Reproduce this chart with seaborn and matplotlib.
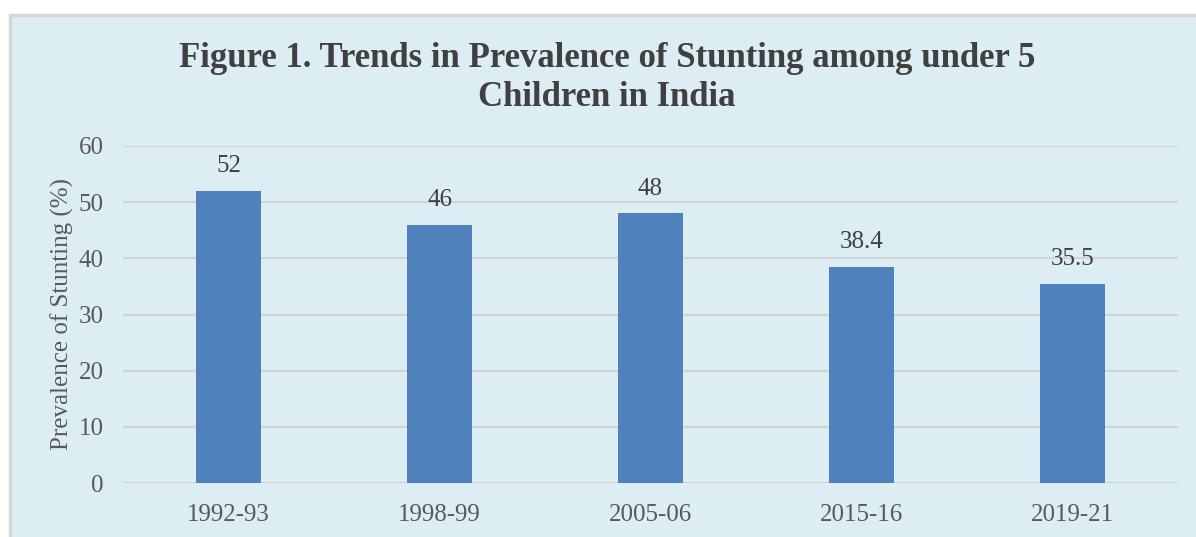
import pandas as pd
import matplotlib.pyplot as plt
import matplotlib.patches as mpatches
import seaborn as sns

# survey rounds and stunting prevalence (%)
years = ['1992-93', '1998-99', '2005-06', '2015-16', '2019-21']
stunting = [52, 46, 48, 38.4, 35.5]
value_labels = ['52', '46', '48', '38.4', '35.5']
y_ticks = [0, 10, 20, 30, 40, 50, 60]

df = pd.DataFrame({'year': years, 'stunting': stunting})

sns.set_style('white')
plt.rcParams['font.family'] = ['Liberation Serif', 'DejaVu Serif']

panel_color = '#DCEDF3'
bar_color = '#4F81BD'
text_color = '#595959'

fig = plt.figure(figsize=(11.96, 5.37), dpi=100)
fig.patch.set_facecolor('white')

# light blue chart area with a grey frame (runs past right and bottom edge)
panel = mpatches.Rectangle((9.5 / 1196, -0.05), 1.1, 1 - 14.5 / 537 + 0.05,
                           transform=fig.transFigure, facecolor=panel_color,
                           edgecolor='#D6D6D6', linewidth=2.5, zorder=-1)
fig.add_artist(panel)

ax = fig.add_axes([123 / 1196, 1 - 483 / 537, (1178 - 123) / 1196, (483 - 146) / 537])
ax.set_facecolor('none')

sns.barplot(data=df, x='year', y='stunting', color=bar_color, width=0.31,
            saturation=1, linewidth=0, ax=ax, zorder=3)

for i, (v, lab) in enumerate(zip(stunting, value_labels)):
    ax.annotate(lab, (i, v), xytext=(0, 10), textcoords='offset points',
                ha='center', va='bottom', fontsize=18, color='#404040')

ax.set_xlim(-0.5, len(years) - 0.5)
ax.set_ylim(0, 60)
ax.set_yticks(y_ticks)
ax.yaxis.grid(True, color='#D3D3D3', linewidth=1.5, zorder=0)
ax.set_axisbelow(True)
for s in ax.spines.values():
    s.set_visible(False)
ax.tick_params(axis='both', length=0, labelsize=18, labelcolor=text_color)
ax.tick_params(axis='x', pad=15)
ax.tick_params(axis='y', pad=14)

ax.set_xlabel('')
ax.set_ylabel('Prevalence of Stunting (%)', fontsize=18, color=text_color)
ax.yaxis.set_label_coords(-0.046, 0.5)

fig.text(607 / 1196, 1 - 78 / 537,
         'Figure 1. Trends in Prevalence of Stunting among under 5\nChildren in India',
         ha='center', va='center', fontsize=25, fontweight='bold',
         color='#404040', linespacing=1.25)

fig.savefig('out.png', dpi=100, facecolor=fig.get_facecolor())
